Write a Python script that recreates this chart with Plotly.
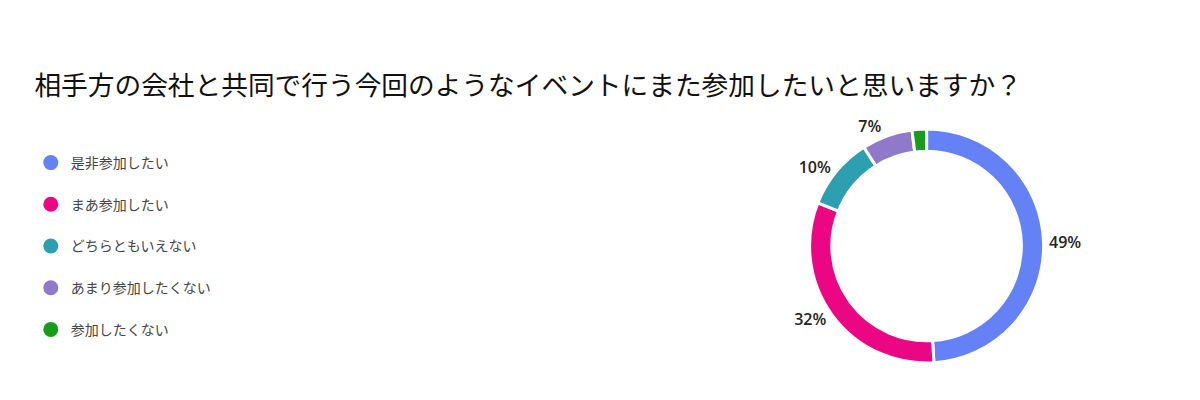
import plotly.graph_objects as go

# アンケート結果
title_text = "相手方の会社と共同で行う今回のようなイベントにまた参加したいと思いますか？"
answers = ["是非参加したい", "まあ参加したい", "どちらともいえない", "あまり参加したくない", "参加したくない"]
shares = [49, 32, 10, 7, 2]
slice_labels = ["49%", "32%", "10%", "7%", ""]
colors = ["#6481F6", "#EB0783", "#2C9FB1", "#9079CB", "#179D1A"]

font_jp = "Noto Sans CJK JP"

fig = go.Figure()

fig.add_trace(go.Pie(
    labels=answers,
    values=shares,
    text=slice_labels,
    textinfo="text",
    textposition="outside",
    textfont=dict(family="Open Sans", size=16, color="#222222", weight=600),
    marker=dict(colors=colors, line=dict(color="white", width=3)),
    hole=0.81,
    sort=False,
    direction="clockwise",
    rotation=0,
    showlegend=False,
    hoverinfo="label+percent",
    domain=dict(x=[0.668, 0.863], y=[0.1125, 0.6975]),
))

# 凡例は丸マーカーにしたいのでダミーの散布図で作る
for i, (name, col) in enumerate(zip(answers, colors)):
    fig.add_trace(go.Scatter(
        x=[None], y=[None], mode="markers", name=name,
        marker=dict(symbol="circle", size=15, color=col),
        legendgroup=f"g{i}", showlegend=True,
    ))

fig.update_layout(
    width=1200, height=400,
    paper_bgcolor="white", plot_bgcolor="white",
    margin=dict(l=0, r=0, t=0, b=0),
    title=dict(text=title_text, x=0.022, xanchor="left", y=0.807, yanchor="middle",
               font=dict(family=font_jp, size=26.7, color="#111111")),
    legend=dict(x=0.019, y=0.6525, xanchor="left", yanchor="top",
                font=dict(family=font_jp, size=14, color="#444444"),
                tracegroupgap=20.5, itemsizing="trace"),
    xaxis=dict(visible=False),
    yaxis=dict(visible=False),
)

fig.write_html("out.html")
